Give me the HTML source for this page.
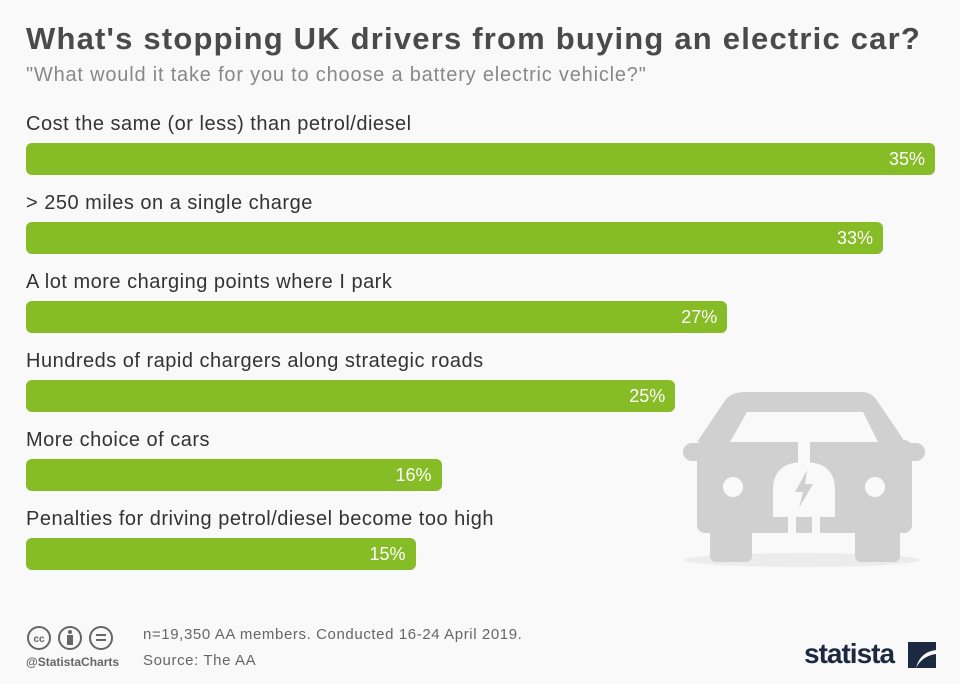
<!DOCTYPE html>
<html><head><meta charset="utf-8"><style>
body{margin:0;background:#f9f9f9;font-family:"Liberation Sans",sans-serif;}
#c{position:relative;width:960px;height:684px;overflow:hidden;background:#f9f9f9}
.t{position:absolute;left:26px;top:21px;font-size:31px;font-weight:bold;color:#4a4a4a;white-space:nowrap;letter-spacing:1.2px}
.s{position:absolute;left:26px;top:64px;font-size:20px;color:#888;white-space:nowrap;letter-spacing:0.8px}
.lab{position:absolute;left:26px;font-size:20px;color:#333;white-space:nowrap;letter-spacing:0.5px}
.bar{position:absolute;left:26px;height:32px;background:#86bc25;border-radius:6px}
.val{position:absolute;right:10px;top:6px;color:#fff;font-size:18px}
.f{position:absolute;font-size:15px;color:#666;white-space:nowrap;letter-spacing:0.6px}
</style></head><body>
<div id="c">
<div class="t">What's stopping UK drivers from buying an electric car?</div>
<div class="s">"What would it take for you to choose a battery electric vehicle?"</div>
<svg style="position:absolute;left:0;top:0" width="960" height="684">
<g fill="#d0d0d0">
<ellipse cx="802" cy="560" rx="118" ry="7" fill="#ececec"/>
<path d="M745 392 H862 Q872 392 878 402 L905 442 H697 L724 402 Q730 392 745 392 Z"/>
<rect x="683" y="443" width="242" height="18" rx="9"/>
<rect x="697" y="440" width="215" height="93" rx="8"/>
<rect x="710" y="520" width="42" height="42" rx="6"/>
<rect x="855" y="520" width="45" height="42" rx="6"/>
</g>
<path d="M747 412 H863 L878 442 H730 Z" fill="#f9f9f9"/>
<circle cx="733" cy="487" r="10" fill="#f9f9f9"/>
<circle cx="875" cy="487" r="10" fill="#f9f9f9"/>
<rect x="798" y="440" width="12" height="25" fill="#f9f9f9"/>
<path d="M773 517 V490 Q773 462 804 462 Q835 462 835 490 V517 Z" fill="#f9f9f9"/>
<rect x="788" y="515" width="8" height="18" fill="#f9f9f9"/>
<rect x="812" y="515" width="8" height="18" fill="#f9f9f9"/>
<path d="M807 470 L795 492 H803 L799 508 L813 484 H805 Z" fill="#d0d0d0"/>
</svg>
<div id="bars"></div>
<div style="position:absolute;left:26px;top:625px;display:flex;gap:5px">
<svg width="88" height="26"><g fill="none" stroke="#666" stroke-width="2"><circle cx="13" cy="13" r="11"/><circle cx="44" cy="13" r="11"/><circle cx="75" cy="13" r="11"/></g>
<text x="13" y="17" font-size="10" font-weight="bold" fill="#666" text-anchor="middle" font-family="Liberation Sans">cc</text>
<circle cx="44" cy="7" r="2" fill="#666"/><rect x="41" y="10" width="6" height="10" fill="#666"/>
<rect x="70" y="9" width="10" height="2" fill="#666"/><rect x="70" y="14" width="10" height="2" fill="#666"/></svg>
</div>
<div class="f" style="left:26px;top:655px;font-size:12px;font-weight:bold;letter-spacing:0">@StatistaCharts</div>
<div class="f" style="left:143px;top:626px">n=19,350 AA members. Conducted 16-24 April 2019.</div>
<div class="f" style="left:143px;top:652px">Source: The AA</div>
<div style="position:absolute;left:804px;top:638px;font-size:28px;font-weight:bold;color:#1b2a41;letter-spacing:-1px">statista</div>
<svg style="position:absolute;left:908px;top:642px" width="28" height="26"><path d="M0 0H28V8Q12 10 8 26H0Z M28 26H8Q14 14 28 12Z" fill="#1b2a41"/></svg>
</div>
<script>
const categories=["Cost the same (or less) than petrol/diesel","> 250 miles on a single charge","A lot more charging points where I park","Hundreds of rapid chargers along strategic roads","More choice of cars","Penalties for driving petrol/diesel become too high"];
const values=[35,33,27,25,16,15];
const maxV=35;
function xScale(v){return v/maxV*909;}
const host=document.getElementById('bars');
categories.forEach((c,i)=>{
 const y=143+i*79;
 const l=document.createElement('div');l.className='lab';l.style.top=(y-30)+'px';l.textContent=c;
 
 
 host.appendChild(l);
 const b=document.createElement('div');b.className='bar';b.style.top=y+'px';b.style.width=xScale(values[i])+'px';
 
 
 const v=document.createElement('span');v.className='val';v.textContent=values[i]+'%';
 
 
 b.appendChild(v);host.appendChild(b);
});
</script>
</body></html>
